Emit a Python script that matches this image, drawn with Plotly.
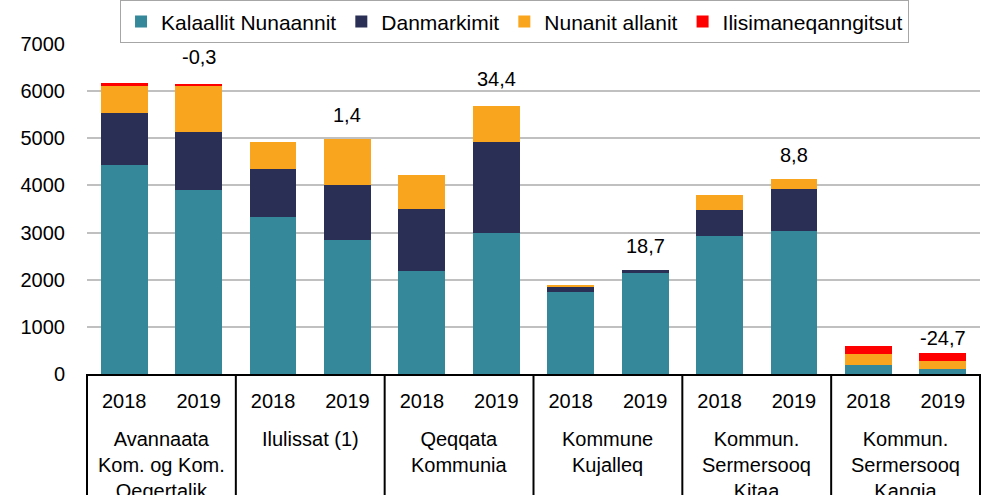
import plotly.graph_objects as go

groups = ["Avannaata<br>Kom. og Kom.<br>Qeqertalik", "Ilulissat (1)", "Qeqqata<br>Kommunia",
          "Kommune<br>Kujalleq", "Kommun.<br>Sermersooq<br>Kitaa", "Kommun.<br>Sermersooq<br>Kangia"]
years = ["2018", "2019"]

kalaallit = [4440, 3905, 3340, 2845, 2187, 2995, 1735, 2150, 2930, 3030, 185, 105]
danmarkimit = [1095, 1225, 1010, 1155, 1316, 1925, 112, 65, 552, 891, 0, 0]
nunanit = [595, 1000, 570, 990, 722, 755, 21, 0, 318, 213, 240, 165]
ilisimaneqanngitsut = [42, 20, 0, 0, 0, 0, 0, 0, 0, 0, 169, 170]
pct_change = ["-0,3", "1,4", "34,4", "18,7", "8,8", "-24,7"]

series = [
    ("Kalaallit Nunaannit", kalaallit, "#35879A"),
    ("Danmarkimit", danmarkimit, "#2A2F55"),
    ("Nunanit allanit", nunanit, "#F9A51D"),
    ("Ilisimaneqanngitsut", ilisimaneqanngitsut, "#FF0000"),
]

FONT = "Liberation Sans, Arial, sans-serif"
FS = 20
n = len(groups) * len(years)
xs = list(range(n))
ticktext = [years[i % 2] for i in xs]

fig = go.Figure()
for name, vals, col in series:
    fig.add_trace(go.Bar(x=xs, y=vals, name=name, marker=dict(color=col, line=dict(width=0))))

totals = [sum(s[1][i] for s in series) for i in xs]

label_shift = [14, 11, 14, 11, 11, 2]
for g, txt in enumerate(pct_change):
    i = 2 * g + 1
    fig.add_annotation(x=i, y=totals[i], xref="x", yref="y", text=txt, showarrow=False,
                       yanchor="bottom", yshift=label_shift[g],
                       font=dict(family=FONT, size=FS, color="black"))

for g, lab in enumerate(groups):
    fig.add_annotation(x=2 * g + 0.5, y=0, xref="x", yref="paper", text=lab, showarrow=False,
                       yanchor="top", yshift=-52, align="center",
                       font=dict(family=FONT, size=FS, color="black"))

for k in range(len(groups) + 1):
    fig.add_shape(type="line", xref="paper", yref="paper", x0=k / len(groups), x1=k / len(groups),
                  y0=0, y1=-0.45, line=dict(color="black", width=2))

fig.update_layout(
    barmode="stack",
    bargap=0.37,
    width=987, height=495,
    margin=dict(l=87, r=7, t=44, b=121, autoexpand=False),
    paper_bgcolor="white", plot_bgcolor="white",
    font=dict(family=FONT, size=FS, color="black"),
    showlegend=True,
    legend=dict(orientation="h", x=0.037, xanchor="left", y=1.132, yanchor="top",
                bordercolor="#A6A6A6", borderwidth=1, bgcolor="white",
                font=dict(family=FONT, size=21, color="black"), traceorder="normal"),
    xaxis=dict(range=[-0.5, n - 0.5], tickvals=xs, ticktext=ticktext, showgrid=False,
               showline=True, linecolor="black", linewidth=2, ticks="", zeroline=False,
               tickfont=dict(family=FONT, size=FS, color="black"), ticklabelstandoff=8),
    yaxis=dict(range=[0, 7000], dtick=1000, showgrid=True, gridcolor="#C0C0C0", gridwidth=2,
               showline=False, zeroline=False, ticks="", ticklabelstandoff=21,
               tickfont=dict(family=FONT, size=FS, color="black")),
)

fig.write_html("out.html", config={"displayModeBar": False},
               post_script="document.body.style.margin='0';")
